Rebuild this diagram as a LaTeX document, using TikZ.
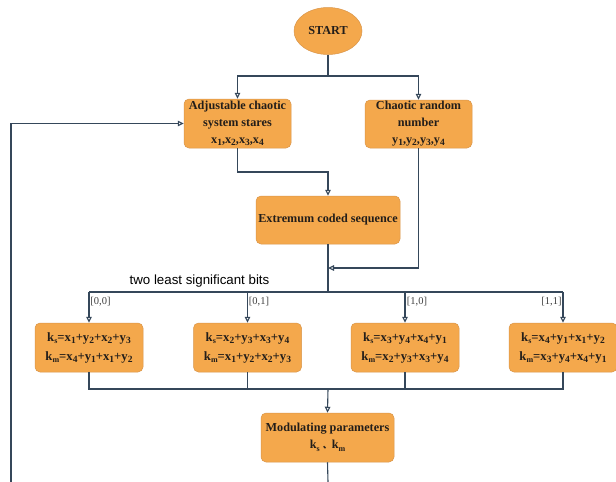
\documentclass[tikz,border=0pt]{standalone}
\usepackage{fontspec}
\setmainfont{Liberation Serif}
\newfontfamily\sansf{Liberation Sans}
\newfontfamily\cjk{Noto Sans CJK SC}
\usetikzlibrary{arrows.meta,shapes.geometric}
\definecolor{boxfill}{HTML}{F4A84C}
\definecolor{boxedge}{HTML}{D9954A}
\definecolor{linec}{HTML}{35475A}
\definecolor{txt}{HTML}{231E1A}
\newcommand\sbs[1]{\raisebox{-0.35ex}{\fontsize{9.5}{10}\selectfont #1}}
\newcommand\sbk[1]{\raisebox{-0.45ex}{\fontsize{8}{9}\selectfont #1}}
\begin{document}
\begin{tikzpicture}[x=1pt,y=-1pt,
  box/.style={draw=boxedge,line width=0.5pt,fill=boxfill,rounded corners=5pt,
    align=center,font=\fontsize{12.2}{17}\selectfont\bfseries,text=txt,inner sep=1pt},
  fbox/.style={box,font=\fontsize{12.7}{19}\selectfont\bfseries},
  conn/.style={draw=linec,line width=1.1pt},
  arr/.style={conn,-{Triangle[open,length=6pt,width=5.5pt]}},
  lbl/.style={font=\fontsize{10.5}{12}\selectfont,text=black!75,inner sep=0pt}]
\useasboundingbox (0,0) rectangle (616,482);
\fill[white] (0,0) rectangle (616,482);
% nodes
\node[box,ellipse,minimum width=68,minimum height=47] (start) at (328,31) {START};
\node[box,minimum width=107,minimum height=49] (A) at (237.5,123.5) {Adjustable chaotic\\system stares\\x\sbs{1},x\sbs{2},x\sbs{3},x\sbs{4}};
\node[box,minimum width=107,minimum height=48] (B) at (418.5,124) {Chaotic random\\number\\y\sbs{1},y\sbs{2},y\sbs{3},y\sbs{4}};
\node[box,minimum width=144,minimum height=48] (E) at (328,220) {Extremum coded sequence};
\node[fbox,minimum width=108,minimum height=49] (F1) at (89,347.5) {k\sbk{s}=x\sbs{1}+y\sbs{2}+x\sbs{2}+y\sbs{3}\\k\sbk{m}=x\sbs{4}+y\sbs{1}+x\sbs{1}+y\sbs{2}};
\node[fbox,minimum width=108,minimum height=49] (F2) at (247.5,347.5) {k\sbk{s}=x\sbs{2}+y\sbs{3}+x\sbs{3}+y\sbs{4}\\k\sbk{m}=x\sbs{1}+y\sbs{2}+x\sbs{2}+y\sbs{3}};
\node[fbox,minimum width=108,minimum height=49] (F3) at (405,347.5) {k\sbk{s}=x\sbs{3}+y\sbs{4}+x\sbs{4}+y\sbs{1}\\k\sbk{m}=x\sbs{2}+y\sbs{3}+x\sbs{3}+y\sbs{4}};
\node[fbox,minimum width=108,minimum height=49] (F4) at (563,347.5) {k\sbk{s}=x\sbs{4}+y\sbs{1}+x\sbs{1}+y\sbs{2}\\k\sbk{m}=x\sbs{3}+y\sbs{4}+x\sbs{4}+y\sbs{1}};
\node[box,minimum width=133,minimum height=49] (M) at (327.5,437.5) {Modulating parameters\\k\sbk{s} {\cjk\fontsize{9}{10}\selectfont 、}k\sbk{m}};
\node[font=\sansf\fontsize{13.3}{15}\selectfont,text=black,inner sep=0pt] (tl) at (199.5,281) {two least significant bits};
\node[lbl] (l00) at (100.5,302) {[0,0]};
\node[lbl] (l01) at (259,302) {[0,1]};
\node[lbl] (l10) at (417,302) {[1,0]};
\node[lbl] (l11) at (551.5,302) {[1,1]};
% coordinates
\coordinate (fork) at (328,76);
\coordinate (j1) at (237.5,172);
\coordinate (bj) at (328,268);
\coordinate (bus) at (328,292);
\coordinate (fj) at (328,389);
\coordinate (mb) at (328,482);
\coordinate (fb0) at (11,482);
% connectors
\draw[conn] (start.south) -- (fork);
\draw[arr] (fork) -| (A.north);
\draw[arr] (fork) -| (B.north);
\draw[arr] (A.south) |- (j1) -| (E.north);
\draw[arr] (B.south) |- (bj);
\draw[conn] (E.south) -- (bus);
\draw[conn] (F1.north |- bus) -- (F4.north |- bus);
\draw[arr] (F1.north |- bus) -- (F1.north);
\draw[arr] (F2.north |- bus) -- (F2.north);
\draw[arr] (F3.north |- bus) -- (F3.north);
\draw[arr] (F4.north |- bus) -- (F4.north);
\draw[conn] (F1.south) |- (fj) -| (F4.south);
\draw[conn] (F2.south) -- (F2.south |- fj);
\draw[conn] (F3.south) -- (F3.south |- fj);
\draw[arr] (fj) -- (M.north);
\draw[conn] (M.south) -- (mb);
\draw[arr] (fb0) |- (A.west);
\end{tikzpicture}
\end{document}
